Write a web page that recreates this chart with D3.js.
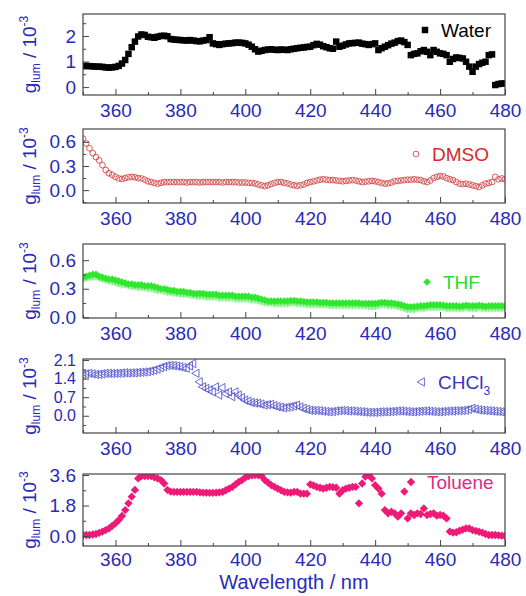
<!DOCTYPE html>
<html>
<head>
<meta charset="utf-8">
<script src="https://cdnjs.cloudflare.com/ajax/libs/d3/7.8.5/d3.min.js"></script>
<style>
  body { margin: 0; background: #fff; }
  svg { display: block; font-family: 'Liberation Sans', Arial, sans-serif; }
</style>
</head>
<body>
<svg id="chart" width="526" height="596"></svg>
<script>
// sampling grid, 1 nm steps
const wavelengths = d3.range(350, 481)

const water = [
  0.82, 0.83, 0.82, 0.81, 0.80, 0.80, 0.79, 0.77, 0.76, 0.77,
  0.79, 0.83, 0.92, 1.06, 1.30, 1.56, 1.78, 1.98, 2.06, 2.04,
  1.97, 1.95, 1.93, 1.97, 2.00, 2.01, 1.99, 1.88, 1.86, 1.85,
  1.84, 1.83, 1.82, 1.84, 1.82, 1.80, 1.79, 1.82, 1.84, 1.95,
  1.71, 1.68, 1.65, 1.68, 1.70, 1.71, 1.72, 1.74, 1.74, 1.73,
  1.71, 1.66, 1.58, 1.48, 1.39, 1.42, 1.45, 1.47, 1.48, 1.46,
  1.45, 1.47, 1.46, 1.45, 1.48, 1.50, 1.52, 1.54, 1.55, 1.57,
  1.58, 1.64, 1.69, 1.66, 1.60, 1.56, 1.52, 1.50, 1.78, 1.58,
  1.62, 1.67, 1.71, 1.72, 1.73, 1.74, 1.70, 1.68, 1.65, 1.68,
  1.71, 1.45, 1.52, 1.58, 1.64, 1.70, 1.74, 1.80, 1.82, 1.76,
  1.65, 1.25, 1.30, 1.32, 1.40, 1.45, 1.38, 1.25, 1.45, 1.38,
  1.32, 1.30, 1.25, 0.99, 1.10, 1.16, 1.14, 1.12, 0.99, 0.80,
  0.60, 0.80, 0.90, 0.95, 0.99, 1.25, 1.28, 0.08, 0.12, 0.14,
  0.14
]

const dmso = [
  0.64, 0.58, 0.52, 0.46, 0.41, 0.37, 0.31, 0.25, 0.21, 0.19,
  0.165, 0.145, 0.14, 0.15, 0.16, 0.165, 0.16, 0.15, 0.145, 0.13,
  0.11, 0.10, 0.09, 0.08, 0.09, 0.10, 0.10, 0.10, 0.10, 0.10,
  0.10, 0.10, 0.095, 0.10, 0.10, 0.10, 0.095, 0.10, 0.10, 0.10,
  0.10, 0.10, 0.10, 0.095, 0.10, 0.10, 0.10, 0.10, 0.095, 0.095,
  0.095, 0.09, 0.09, 0.083, 0.07, 0.06, 0.05, 0.06, 0.075, 0.09,
  0.10, 0.10, 0.09, 0.083, 0.07, 0.06, 0.055, 0.06, 0.07, 0.09,
  0.10, 0.11, 0.12, 0.13, 0.135, 0.13, 0.125, 0.125, 0.12, 0.115,
  0.11, 0.115, 0.12, 0.125, 0.12, 0.11, 0.10, 0.105, 0.11, 0.115,
  0.11, 0.10, 0.09, 0.08, 0.085, 0.095, 0.11, 0.115, 0.12, 0.125,
  0.13, 0.13, 0.135, 0.13, 0.125, 0.11, 0.10, 0.12, 0.15, 0.165,
  0.175, 0.17, 0.15, 0.135, 0.125, 0.10, 0.08, 0.075, 0.08, 0.07,
  0.06, 0.05, 0.04, 0.06, 0.08, 0.09, 0.10, 0.165, 0.135, 0.145,
  0.135
]

const thf = [
  0.42, 0.43, 0.44, 0.45, 0.45, 0.43, 0.42, 0.41, 0.40, 0.40,
  0.39, 0.38, 0.37, 0.36, 0.35, 0.35, 0.34, 0.34, 0.34, 0.33,
  0.33, 0.33, 0.32, 0.31, 0.30, 0.30, 0.29, 0.28, 0.28, 0.27,
  0.27, 0.27, 0.26, 0.26, 0.25, 0.25, 0.25, 0.25, 0.24, 0.24,
  0.24, 0.24, 0.23, 0.23, 0.23, 0.23, 0.23, 0.22, 0.22, 0.22,
  0.22, 0.22, 0.21, 0.21, 0.20, 0.19, 0.18, 0.17, 0.17, 0.17,
  0.17, 0.17, 0.17, 0.17, 0.175, 0.175, 0.17, 0.17, 0.165, 0.16,
  0.16, 0.16, 0.16, 0.155, 0.155, 0.155, 0.15, 0.15, 0.15, 0.15,
  0.15, 0.15, 0.15, 0.15, 0.15, 0.15, 0.145, 0.145, 0.145, 0.145,
  0.145, 0.15, 0.155, 0.155, 0.15, 0.15, 0.145, 0.14, 0.13, 0.12,
  0.11, 0.11, 0.11, 0.115, 0.12, 0.12, 0.125, 0.13, 0.13, 0.13,
  0.13, 0.125, 0.12, 0.12, 0.12, 0.12, 0.115, 0.12, 0.125, 0.12,
  0.12, 0.12, 0.125, 0.12, 0.115, 0.12, 0.12, 0.12, 0.12, 0.12,
  0.12
]

// second, fainter THF trace just below the main one
const thfLow = [
  0.39, 0.40, 0.41, 0.41, 0.41, 0.40, 0.39, 0.38, 0.37, 0.36,
  0.35, 0.34, 0.33, 0.33, 0.32, 0.31, 0.31, 0.30, 0.30, 0.30,
  0.29, 0.29, 0.28, 0.27, 0.27, 0.26, 0.25, 0.25, 0.24, 0.24,
  0.23, 0.23, 0.23, 0.22, 0.22, 0.21, 0.21, 0.21, 0.20, 0.20,
  0.20, 0.20, 0.19, 0.19, 0.19, 0.19, 0.19, 0.18, 0.18, 0.18,
  0.18, 0.18, 0.17, 0.17, 0.16, 0.15, 0.14, 0.14, 0.14, 0.13,
  0.13, 0.13, 0.13, 0.13, 0.14, 0.14, 0.13, 0.13, 0.13, 0.12,
  0.12, 0.12, 0.12, 0.12, 0.12, 0.12, 0.11, 0.11, 0.11, 0.11,
  0.11, 0.11, 0.11, 0.11, 0.11, 0.11, 0.11, 0.11, 0.10, 0.10,
  0.10, 0.11, 0.12, 0.12, 0.11, 0.11, 0.11, 0.10, 0.09, 0.08,
  0.07, 0.07, 0.07, 0.08, 0.08, 0.08, 0.09, 0.09, 0.09, 0.09,
  0.09, 0.09, 0.08, 0.08, 0.08, 0.08, 0.08, 0.08, 0.09, 0.08,
  0.08, 0.08, 0.09, 0.08, 0.08, 0.08, 0.08, 0.08, 0.08, 0.08,
  0.08
]

const chcl3 = [
  1.56, 1.58, 1.60, 1.58, 1.56, 1.56, 1.58, 1.60, 1.60, 1.59,
  1.60, 1.60, 1.61, 1.62, 1.61, 1.62, 1.62, 1.63, 1.64, 1.65,
  1.66, 1.69, 1.72, 1.76, 1.81, 1.85, 1.89, 1.90, 1.89, 1.87,
  1.85, 1.82, 1.79, 1.88, 1.97, 1.60, 1.28, 1.09, 1.03, 0.97,
  0.90, 1.09, 0.78, 1.06, 0.84, 0.90, 0.72, 0.90, 0.78, 0.68,
  0.59, 0.55, 0.50, 0.48, 0.47, 0.44, 0.40, 0.42, 0.43, 0.38,
  0.34, 0.32, 0.30, 0.32, 0.34, 0.37, 0.40, 0.33, 0.28, 0.24,
  0.21, 0.20, 0.20, 0.19, 0.17, 0.16, 0.15, 0.16, 0.18, 0.19,
  0.20, 0.19, 0.18, 0.18, 0.17, 0.16, 0.15, 0.14, 0.13, 0.13,
  0.13, 0.14, 0.15, 0.15, 0.15, 0.16, 0.17, 0.18, 0.18, 0.17,
  0.16, 0.15, 0.15, 0.16, 0.17, 0.18, 0.18, 0.17, 0.16, 0.15,
  0.15, 0.16, 0.17, 0.18, 0.18, 0.19, 0.19, 0.20, 0.21, 0.24,
  0.28, 0.25, 0.22, 0.21, 0.20, 0.19, 0.18, 0.17, 0.16, 0.15,
  0.15
]

const toluene = [
  0.06, 0.06, 0.06, 0.09, 0.12, 0.18, 0.26, 0.35, 0.45, 0.60,
  0.75, 0.94, 1.18, 1.53, 1.93, 2.32, 2.72, 3.40, 3.54, 3.54,
  3.54, 3.54, 3.46, 3.40, 3.30, 3.10, 2.72, 2.62, 2.60, 2.60,
  2.60, 2.60, 2.60, 2.60, 2.60, 2.60, 2.58, 2.56, 2.56, 2.55,
  2.55, 2.56, 2.58, 2.60, 2.70, 2.80, 2.90, 3.05, 3.20, 3.30,
  3.45, 3.54, 3.58, 3.60, 3.58, 3.54, 3.30, 3.15, 3.00, 2.90,
  2.80, 2.70, 2.60, 2.58, 2.56, 2.60, 2.60, 2.50, 2.50, 2.50,
  3.05, 2.98, 2.90, 2.85, 2.80, 2.85, 2.90, 2.88, 2.85, 2.50,
  2.70, 2.80, 2.85, 2.90, 2.90, 1.93, 3.10, 3.50, 3.66, 3.40,
  3.00, 2.80, 2.50, 1.53, 1.34, 1.43, 1.34, 1.14, 1.34, 2.62,
  1.04, 1.34, 1.24, 1.34, 1.30, 1.63, 1.24, 1.30, 1.34, 1.20,
  1.24, 1.20, 1.04, 0.26, 0.20, 0.22, 0.31, 0.38, 0.45, 0.45,
  0.35, 0.30, 0.25, 0.20, 0.12, 0.06, 0.06, 0.06, 0.04, 0.02,
  0.00
]

const xTicks = [360, 380, 400, 420, 440, 460, 480]
const xMinor = [350, 370, 390, 410, 430, 450, 470]

const panels = [
  { label: 'Water', values: water, top: 14, bottom: 95, domain: [-0.31, 2.86], ticks: [0, 1, 2], minor: [0.5, 1.5, 2.5], fmt: d3.format('d'), color: '#000', text: '#000', symbol: d3.symbolSquare, size: 42, hollow: false, legend: [425, 30] },
  { label: 'DMSO', values: dmso, top: 129, bottom: 203, domain: [-0.16, 0.76], ticks: [0, 0.3, 0.6], minor: [-0.15, 0.15, 0.45], fmt: d3.format('.1f'), color: '#d04848', text: '#d42a2a', symbol: d3.symbolCircle, size: 26, hollow: true, legend: [416, 154] },
  { label: 'THF', values: thf, extra: thfLow, top: 244, bottom: 318, domain: [-0.007, 0.77], ticks: [0, 0.3, 0.6], minor: [0.15, 0.45], fmt: d3.format('.1f'), color: '#2ee82e', text: '#2ed82e', symbol: d3.symbolDiamond2, size: 38, hollow: false, legend: [427, 282] },
  // four labels share a short axis here, so they are set a bit smaller
  { label: 'CHCl', sub: '3', values: chcl3, top: 359, bottom: 433, domain: [-0.65, 2.14], ticks: [0, 0.7, 1.4, 2.1], minor: [-0.35, 0.35, 1.05, 1.75], fmt: d3.format('.1f'), tickFont: 16, color: '#5a5ad0', text: '#3535c0', symbol: d3.symbolTriangle2, size: 50, hollow: true, rotate: -90, legend: [422, 382] },
  { label: 'Toluene', values: toluene, top: 474, bottom: 546, domain: [-0.59, 3.66], ticks: [0, 1.8, 3.6], minor: [0.9, 2.7], fmt: d3.format('.1f'), color: '#ee1a78', text: '#e22a80', symbol: d3.symbolDiamond2, size: 44, hollow: false, legend: [411, 482] }
]

const axisColor = '#2a2ab8'
const frameColor = '#444'
const left = 83
const right = 505

const svg = d3.select('#chart')

const x = d3.scaleLinear()
  .domain([350, 480])
  .range([left, right])

function renderPanel (p, i) {
  const y = d3.scaleLinear()
    .domain(p.domain)
    .range([p.bottom, p.top])

  const g = svg.append('g')

  g.append('clipPath').attr('id', `clip${i}`)
    .append('rect')
    .attr('x', left).attr('y', p.top)
    .attr('width', right - left).attr('height', p.bottom - p.top)

  const sym = d3.symbol().type(p.symbol).size(p.size)
  const rot = p.rotate ? ` rotate(${p.rotate})` : ''

  const marks = g.append('g').attr('clip-path', `url(#clip${i})`)

  if (p.extra) {
    marks.selectAll('path.extra').data(p.extra).enter().append('path')
      .attr('class', 'extra')
      .attr('d', d3.symbol().type(p.symbol).size(20))
      .attr('transform', (d, j) => `translate(${x(wavelengths[j])},${y(d)})`)
      .attr('fill', '#9aef9a')
  }

  marks.selectAll('path.pt').data(p.values).enter().append('path')
    .attr('class', 'pt')
    .attr('d', sym)
    .attr('transform', (d, j) => `translate(${x(wavelengths[j])},${y(d)})${rot}`)
    .attr('fill', p.hollow ? 'none' : p.color)
    .attr('stroke', p.color)
    .attr('stroke-width', p.hollow ? 0.9 : 0)

  // inward ticks
  g.append('g')
    .attr('transform', `translate(0,${p.bottom})`)
    .call(d3.axisTop(x).tickValues(xTicks).tickSize(6).tickFormat(''))
    .call(a => a.select('.domain').remove())
  g.append('g')
    .attr('transform', `translate(0,${p.bottom})`)
    .call(d3.axisTop(x).tickValues(xMinor).tickSize(3).tickFormat(''))
    .call(a => a.select('.domain').remove())
  g.append('g')
    .attr('transform', `translate(${left},0)`)
    .call(d3.axisRight(y).tickValues(p.ticks).tickSize(6).tickFormat(''))
    .call(a => a.select('.domain').remove())
  g.append('g')
    .attr('transform', `translate(${left},0)`)
    .call(d3.axisRight(y).tickValues(p.minor).tickSize(3).tickFormat(''))
    .call(a => a.select('.domain').remove())
  g.selectAll('.tick line').attr('stroke', frameColor)

  // tick labels
  g.append('g')
    .attr('transform', `translate(0,${p.bottom})`)
    .call(d3.axisBottom(x).tickValues(xTicks).tickSize(0).tickPadding(i === 4 ? 7 : 9))
    .call(a => a.select('.domain').remove())
    .call(a => a.selectAll('text').attr('font-size', 19).attr('fill', axisColor).attr('font-family', null))
  g.append('g')
    .attr('transform', `translate(${left},0)`)
    .call(d3.axisLeft(y).tickValues(p.ticks).tickFormat(p.fmt).tickSize(0).tickPadding(7))
    .call(a => a.select('.domain').remove())
    .call(a => a.selectAll('text').attr('font-size', p.tickFont || 19).attr('fill', axisColor).attr('font-family', null))

  g.append('rect')
    .attr('x', left).attr('y', p.top)
    .attr('width', right - left).attr('height', p.bottom - p.top)
    .attr('fill', 'none')
    .attr('stroke', frameColor)
    .attr('stroke-width', 1.2)

  // y title, baseline sits at x = 36
  const cy = (p.top + p.bottom) / 2
  const t = g.append('text')
    .attr('transform', `translate(36,${cy}) rotate(-90)`)
    .attr('text-anchor', 'middle')
    .attr('fill', axisColor)
    .attr('font-size', 19)
  t.append('tspan').text('g')
  t.append('tspan').attr('font-size', 12).attr('dy', 4).text('lum')
  t.append('tspan').attr('dy', -4).text(' / 10')
  t.append('tspan').attr('font-size', 12).attr('dy', -8).text('-3')

  // legend
  const [lx, ly] = p.legend
  g.append('path')
    .attr('d', sym)
    .attr('transform', `translate(${lx},${ly})${rot}`)
    .attr('fill', p.hollow ? 'none' : p.color)
    .attr('stroke', p.color)
    .attr('stroke-width', p.hollow ? 0.9 : 0)
  const lt = g.append('text')
    .attr('x', lx + 16).attr('y', ly + 7)
    .attr('font-size', 19)
    .attr('fill', p.text)
    .text(p.label)
  if (p.sub) {
    lt.append('tspan').attr('font-size', 12).attr('dy', 6).text(p.sub)
  }
}

panels.forEach(renderPanel)

svg.append('text')
  .attr('x', (left + right) / 2)
  .attr('y', 589)
  .attr('text-anchor', 'middle')
  .attr('font-size', 20)
  .attr('fill', axisColor)
  .text('Wavelength / nm')
</script>
</body>
</html>
